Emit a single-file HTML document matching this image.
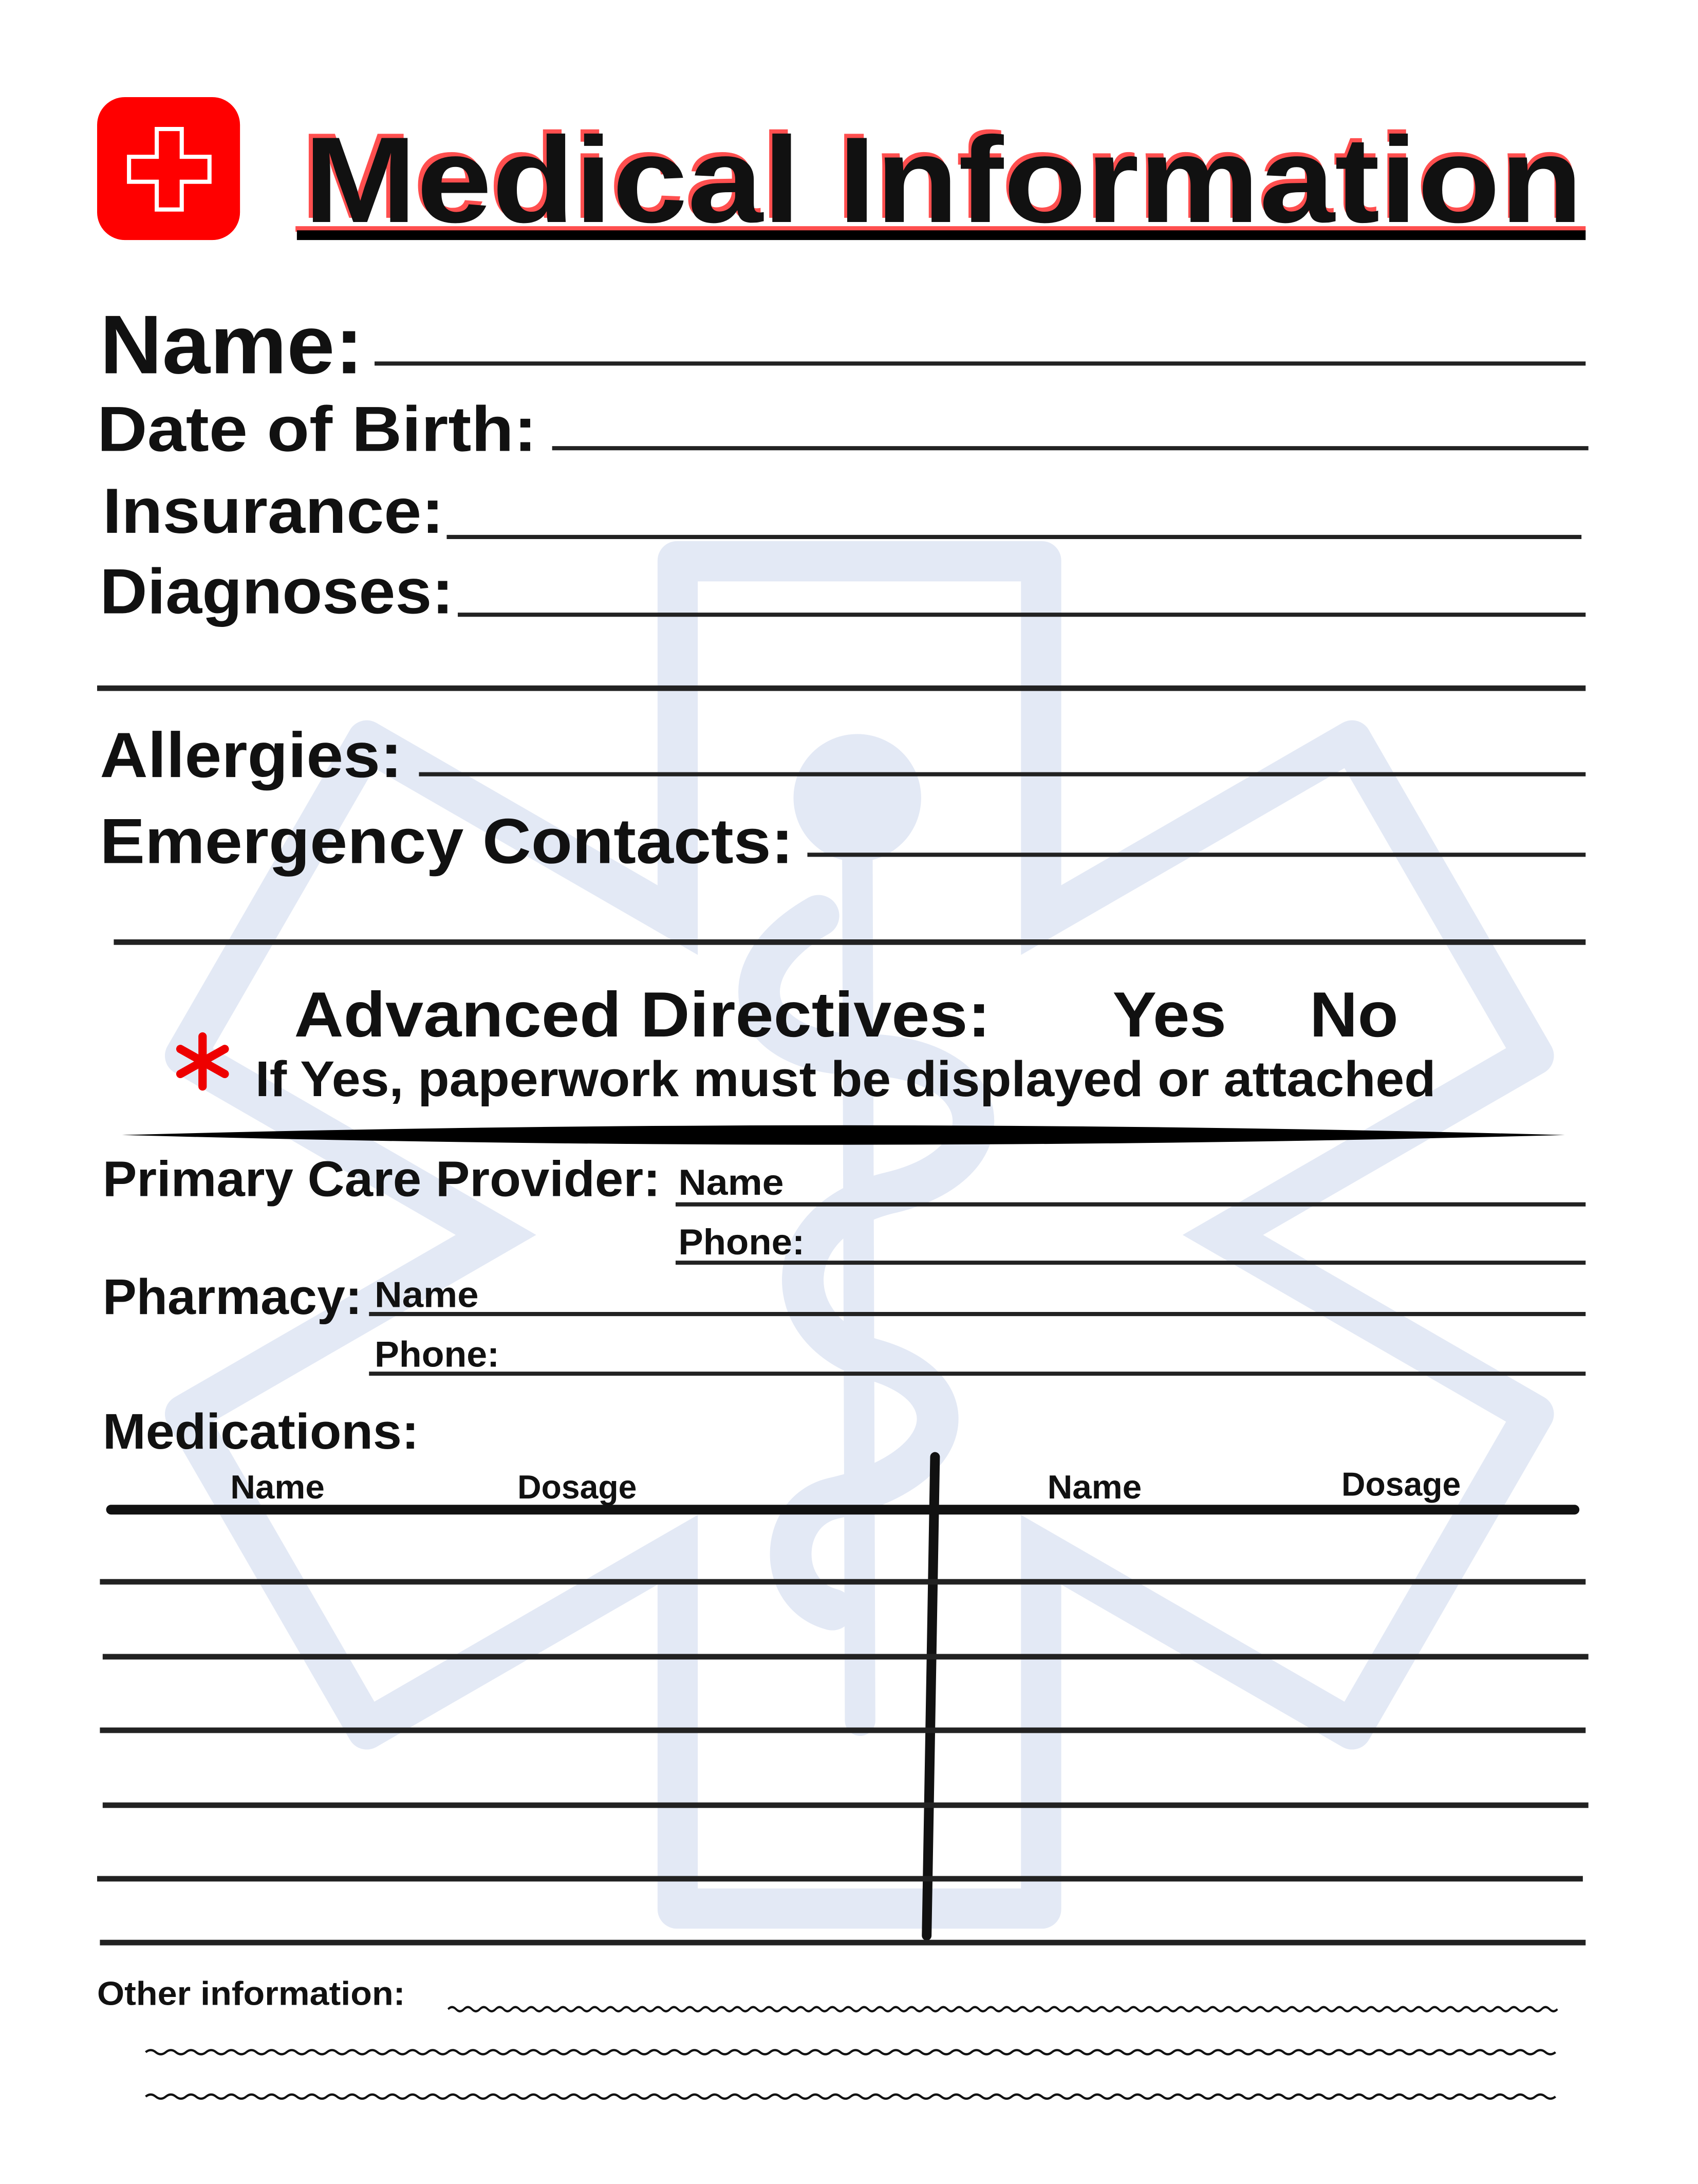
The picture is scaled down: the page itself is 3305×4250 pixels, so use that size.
<!DOCTYPE html>
<html><head><meta charset="utf-8"><style>html,body{margin:0;padding:0;background:#fff}svg{display:block}text{font-family:"Liberation Sans",sans-serif;font-weight:bold;fill:#111}</style></head>
<body>
<svg width="3305" height="4250" viewBox="0 0 1224 1574" xmlns="http://www.w3.org/2000/svg">
<defs>
<path id="w" d="M0 0 q3.5 -3 7 0 t7 0 t7 0 t7 0 t7 0 t7 0 t7 0 t7 0 t7 0 t7 0" fill="none" stroke="#111" stroke-width="1.6"/>
<g id="w14">
<use href="#w" x="0"/><use href="#w" x="70"/><use href="#w" x="140"/><use href="#w" x="210"/><use href="#w" x="280"/><use href="#w" x="350"/><use href="#w" x="420"/><use href="#w" x="490"/><use href="#w" x="560"/><use href="#w" x="630"/><use href="#w" x="700"/><use href="#w" x="770"/><use href="#w" x="840"/><use href="#w" x="910"/>
</g>
</defs>
<rect width="1224" height="1574" fill="#fff"/>
<g fill="#e3e9f5">
<rect x="474" y="390" width="291" height="1000" rx="14"/>
<rect x="474" y="390" width="291" height="1000" rx="14" transform="rotate(60 619.5 890)"/>
<rect x="474" y="390" width="291" height="1000" rx="14" transform="rotate(-60 619.5 890)"/>
</g>
<g fill="#fff">
<rect x="503" y="419" width="233" height="942"/>
<rect x="503" y="419" width="233" height="942" transform="rotate(60 619.5 890)"/>
<rect x="503" y="419" width="233" height="942" transform="rotate(-60 619.5 890)"/>
</g>
<g fill="none" stroke="#e3e9f5" stroke-linecap="round">
<path d="M618 600 L620 1240" stroke-width="22"/>
<path d="M590 660 C520 700 540 760 620 760 C720 760 730 840 640 860 C560 880 560 960 630 980 C700 1000 690 1060 600 1080 C560 1090 560 1150 600 1160" stroke-width="30"/>
</g>
<circle cx="618" cy="575" r="46" fill="#e3e9f5"/>
<rect x="70" y="70" width="103" height="103" rx="20" fill="#ff0000"/>
<path d="M113 93 h18 v20 h20 v18 h-20 v20 h-18 v-20 h-20 v-18 h20 z" fill="#ff0000" stroke="#fff" stroke-width="3"/>
<text x="216" y="157" font-size="88" textLength="924" lengthAdjust="spacingAndGlyphs" style="fill:#ff4f4f">Medical Information</text>
<text x="219" y="160" font-size="88" textLength="922" lengthAdjust="spacingAndGlyphs">Medical Information</text>
<rect x="213" y="163" width="930" height="4" fill="#ff4f4f"/>
<rect x="214" y="166" width="929" height="7" fill="#000"/>
<g stroke="#222" stroke-width="3">
<line x1="270" y1="262" x2="1143" y2="262"/>
<line x1="398" y1="323" x2="1145" y2="323"/>
<line x1="322" y1="387" x2="1140" y2="387"/>
<line x1="330" y1="443" x2="1143" y2="443"/>
<line x1="70" y1="496" x2="1143" y2="496" stroke-width="4"/>
<line x1="302" y1="558" x2="1143" y2="558"/>
<line x1="582" y1="616" x2="1143" y2="616"/>
<line x1="82" y1="679" x2="1143" y2="679" stroke-width="4"/>
<line x1="487" y1="868" x2="1143" y2="868"/>
<line x1="487" y1="910" x2="1143" y2="910"/>
<line x1="266" y1="947" x2="1143" y2="947"/>
<line x1="266" y1="990" x2="1143" y2="990"/>
</g>
<text x="72" y="269" font-size="60" textLength="190" lengthAdjust="spacingAndGlyphs">Name:</text>
<text x="70" y="325" font-size="46" textLength="317" lengthAdjust="spacingAndGlyphs">Date of Birth:</text>
<text x="74" y="384" font-size="46" textLength="246" lengthAdjust="spacingAndGlyphs">Insurance:</text>
<text x="72" y="442" font-size="46" textLength="255" lengthAdjust="spacingAndGlyphs">Diagnoses:</text>
<text x="72" y="560" font-size="46" textLength="218" lengthAdjust="spacingAndGlyphs">Allergies:</text>
<text x="72" y="622" font-size="46" textLength="500" lengthAdjust="spacingAndGlyphs">Emergency Contacts:</text>
<text x="212" y="747" font-size="46" textLength="502" lengthAdjust="spacingAndGlyphs">Advanced Directives:</text>
<text x="802" y="747" font-size="46" textLength="82" lengthAdjust="spacingAndGlyphs">Yes</text>
<text x="944" y="747" font-size="46" textLength="64" lengthAdjust="spacingAndGlyphs">No</text>
<g stroke="#e00" stroke-width="6" stroke-linecap="round">
<line x1="146" y1="747" x2="146" y2="783"/>
<line x1="130" y1="756" x2="162" y2="774"/>
<line x1="130" y1="774" x2="162" y2="756"/>
</g>
<text x="184" y="790" font-size="36" textLength="851" lengthAdjust="spacingAndGlyphs">If Yes, paperwork must be displayed or attached</text>
<path d="M88 818 Q600 804 1128 818 Q600 832 88 818 Z" fill="#000"/>
<text x="74" y="862" font-size="36" textLength="402" lengthAdjust="spacingAndGlyphs">Primary Care Provider:</text>
<text x="489" y="861" font-size="26" textLength="76" lengthAdjust="spacingAndGlyphs">Name</text>
<text x="489" y="904" font-size="26" textLength="91" lengthAdjust="spacingAndGlyphs">Phone:</text>
<text x="74" y="947" font-size="36" textLength="187" lengthAdjust="spacingAndGlyphs">Pharmacy:</text>
<text x="270" y="942" font-size="26" textLength="75" lengthAdjust="spacingAndGlyphs">Name</text>
<text x="270" y="985" font-size="26" textLength="90" lengthAdjust="spacingAndGlyphs">Phone:</text>
<text x="74" y="1044" font-size="36" textLength="228" lengthAdjust="spacingAndGlyphs">Medications:</text>
<text x="166" y="1080" font-size="24" textLength="68" lengthAdjust="spacingAndGlyphs">Name</text>
<text x="373" y="1080" font-size="24" textLength="86" lengthAdjust="spacingAndGlyphs">Dosage</text>
<text x="755" y="1080" font-size="24" textLength="68" lengthAdjust="spacingAndGlyphs">Name</text>
<text x="967" y="1078" font-size="24" textLength="86" lengthAdjust="spacingAndGlyphs">Dosage</text>
<g stroke="#111" stroke-linecap="round">
<line x1="80" y1="1088" x2="1135" y2="1088" stroke-width="7"/>
<line x1="674" y1="1050" x2="668" y2="1395" stroke-width="7"/>
</g>
<g stroke="#222" stroke-width="4">
<line x1="72" y1="1140" x2="1143" y2="1140"/>
<line x1="74" y1="1194" x2="1145" y2="1194"/>
<line x1="72" y1="1247" x2="1143" y2="1247"/>
<line x1="74" y1="1301" x2="1145" y2="1301"/>
<line x1="70" y1="1354" x2="1141" y2="1354"/>
<line x1="72" y1="1400" x2="1143" y2="1400"/>
</g>
<text x="70" y="1445" font-size="24" textLength="222" lengthAdjust="spacingAndGlyphs">Other information:</text>
<g transform="translate(323 1448) scale(0.816 1)"><use href="#w14"/></g>
<g transform="translate(105 1479) scale(1.037 1)"><use href="#w14"/></g>
<g transform="translate(105 1511) scale(1.037 1)"><use href="#w14"/></g>
</svg>
</body></html>
